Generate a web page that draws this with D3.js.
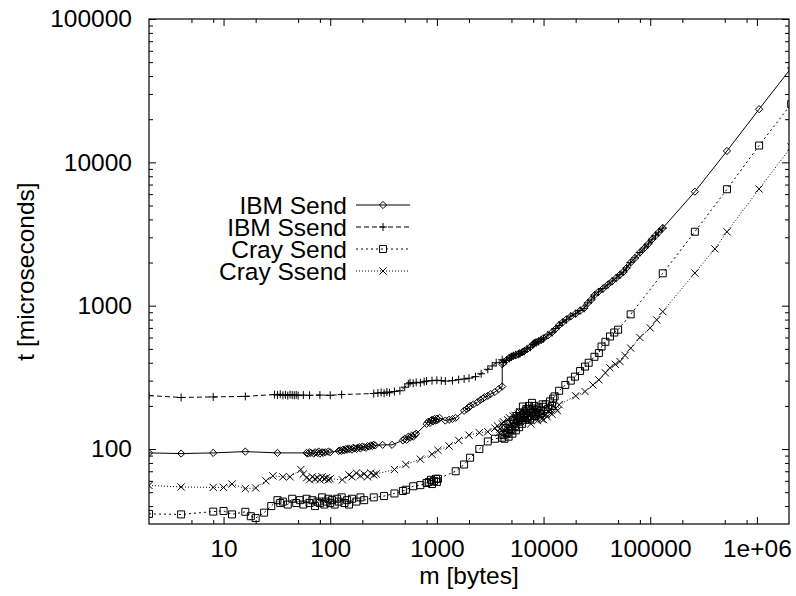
<!DOCTYPE html>
<html><head><meta charset="utf-8">
<script src="https://cdn.jsdelivr.net/npm/d3@7"></script>
<style>
body{margin:0;background:#fff}
text{font-family:"Liberation Sans",Arial,Helvetica,sans-serif;fill:#000}
</style>
</head><body><svg id="c" width="796" height="596"></svg>
<script>
// ---------------- data ----------------
const seriesNames = ["IBM Send","IBM Ssend","Cray Send","Cray Ssend"];
const xTickValues = [10,100,1000,10000,100000,1000000];
const xTickLabels = ["10","100","1000","10000","100000","1e+06"];
const yTickValues = [100,1000,10000,100000];
const yTickLabels = ["100","1000","10000","100000"];
const xMinorTicks = [5,8,20,50,80,200,500,800,2000,5000,8000,20000,50000,80000,200000,500000,800000];
const yMinorTicks = [40,50,60,70,80,90,200,300,400,500,600,700,800,900,2000,3000,4000,5000,6000,7000,8000,9000,20000,30000,40000,50000,60000,70000,80000,90000];

const ibmSend = [[2,94],[4,93],[8,94],[16,96],[32,94],
 [60,94],[62,93],[64,95],[66,94],[70,93],[72,95],[76,94],[78,96],[80,93],[84,95],[86,94],[90,95],[96,96],[100,95],
 [120,97],[124,98],[128,97],[132,99],[136,98],[140,100],[144,99],[148,101],[152,100],[160,99],[164,102],[168,101],[176,100],[180,102],[188,103],[192,101],[200,104],[208,103],[216,102],[224,105],[232,104],[240,106],[248,105],[256,107],[264,106],
 [310,107],[380,107],
 [480,115],[500,118],[520,116],[540,122],[560,120],[580,124],[600,122],[620,126],[640,128],
 [800,150],[830,155],[860,152],[880,158],[900,160],[920,156],[950,162],[980,158],[1000,163],[1024,160],[1060,165],
 [1200,158],[1300,160],[1400,162],[1500,165],
 [1800,185],[1900,190],[2000,195],[2048,200],[2200,205],[2400,212],[2560,220],[2700,225],[2800,230],[3000,235],[3200,242],[3500,250],[3800,262],[4096,273],
 [4100,390],[4200,398],[4500,418],[4800,435],[5000,442],[5200,446],[5500,452],[5800,460],[6000,466],[6300,472],[6600,482],[7000,497],[7500,514],[8000,540],[8192,546],[8500,552],[9000,566],[9500,577],[10000,592],[11000,622],[12000,652],[13000,690],[14000,732],[15000,762],[16384,802],[18000,842],[20000,882],[22000,922],[24000,962],[26000,1042],[28000,1102],[30000,1182],[32768,1252],[36000,1312],[40000,1402],[44000,1482],[48000,1562],[52000,1642],[56000,1722],[60000,1832],[65536,2002],[72000,2152],[80000,2352],[88000,2522],[96000,2702],[104000,2902],[112000,3082],[120000,3252],[131072,3480],
 [262144,6240],[524288,12000],[1048576,23500],[2097152,45500]];

const ibmSsend = [[2,236],[4,229],[8,231],[16,233],[30,240],[32,238],[34,241],[36,237],[38,239],[40,236],[42,240],[44,238],[46,237],[48,239],[50,236],[56,238],[64,237],[80,238],[100,237],[128,240],
 [256,244],[280,246],[300,248],[320,245],[340,250],[360,247],[400,252],[450,255],[500,270],[540,285],[560,290],[600,288],[640,292],[700,290],[760,295],[800,298],[900,300],[1000,302],[1100,300],[1200,298],[1400,300],[1600,305],[1800,308],[2000,312],[2300,320],[2600,335],[3000,360],[3300,380],[3600,400],[4096,420],
 [4200,402],[4500,415],[4800,430],[5000,438],[5200,448],[5500,455],[5800,458],[6000,462],[6300,475],[6600,480],[7000,500],[7500,512],[8000,536],[8192,548],[8500,556],[9000,562],[9500,580],[10000,588],[11000,626],[12000,648],[13000,694],[14000,728],[15000,766],[16384,798],[18000,846],[20000,878],[22000,926],[24000,958],[26000,1046],[28000,1098],[30000,1186],[32768,1248],[36000,1316],[40000,1398],[44000,1486],[48000,1558],[52000,1646],[56000,1718],[60000,1836],[65536,1998],[72000,2156],[80000,2348],[88000,2526],[96000,2698],[104000,2906],[112000,3078],[120000,3256],[131072,3476]];

const craySend = [[2,35.3],[4,35],[8,36.6],[10,37],[12,35],[16,36.5],[18,34],[20,33],[24,36],[28,40],[32,44],[34,42],[36,43],[40,41],[44,45],[48,42],[52,44],[56,41],[60,45],[64,42],[68,44],[72,40],[76,43],[80,42],[84,46],[88,41],[92,43],[96,45],[100,42],[104,44],[110,41],[116,45],[120,43],[128,46],[136,42],[144,44],[150,41],[160,45],[176,43],[192,46],[208,44],[256,46],[320,47],[400,49],[480,51],[512,52],[600,55],[700,56],[800,58],[840,59],[880,61],[900,57],[940,60],[980,62],[1000,59],[1024,62],
 [1500,70],[1800,78],[2048,87],[2500,100],[3000,113],[3500,118],[4096,120],
 [4200,125],[4300,118],[4400,140],[4500,128],[4600,130],[4700,122],[4800,150],[4900,138],[5000,135],[5100,128],[5200,160],[5300,150],[5400,145],[5500,135],[5600,170],[5700,158],[5800,155],[5900,142],[6000,180],[6100,165],[6200,165],[6300,150],[6400,198],[6500,172],[6600,175],[6700,160],[6800,185],[6900,190],[7000,170],[7100,165],[7200,190],[7300,200],[7500,160],[7600,178],[7800,210],[7900,192],[8000,180],[8192,200],[8300,170],[8500,175],[8700,188],[9000,195],[9200,178],[9500,185],[9800,205],[10000,197],[10500,205],[11000,190],[11500,215],[12000,200],[12300,225],
 [12700,233],[14000,255],[16000,280],[18000,300],[19700,320],[22000,350],[24500,376],[26500,400],[30000,440],[33000,467],[35000,519],[38000,560],[42000,610],[46000,650],[50000,680],[65536,870],[131072,1683],[262144,3280],[524288,6490],[1048576,13100],[2097152,25500]];

const craySsend = [[2,55.7],[4,54.4],[8,54],[10,54],[12,57],[16,53],[20,53.5],[25,60],[29,65],[36,64],[42,64],[53,72],[56,67],[60,63],[64,61],[68,64],[72,62],[76,63],[80,61],[84,64],[88,62],[92,63],[96,61],[100,62],[130,61],[150,66],[160,64],[176,68],[192,65],[208,67],[224,64],[240,68],[256,66],[270,67],
 [400,72],[512,78],[700,85],[900,92],[1024,98],[1300,105],[1600,115],[2000,125],[2500,130],[3000,132],
 [3500,140],[3700,145],[3800,130],[3900,138],[4096,150],[4200,155],[4300,135],[4400,142],[4600,160],[4800,165],[4900,145],[5000,150],[5200,170],[5400,172],[5500,150],[5700,158],[5800,175],[6000,182],[6100,155],[6300,160],[6500,180],[6700,178],[6800,160],[7000,165],[7200,172],[7400,185],[7600,150],[7800,168],[8000,165],[8200,180],[8400,175],[8600,165],[8800,158],[9000,185],[9200,170],[9400,170],[9600,162],[9800,178],[10000,160],[10500,175],[10800,168],[11200,182],[11500,190],[12000,175],[12500,198],[13000,192],[13500,185],
 [14000,204],[20000,235],[24500,252],[29000,280],[33000,304],[38000,340],[41900,369],[47000,390],[52000,408],[58000,450],[65536,506],[80000,600],[100000,700],[115000,796],[131072,910],[262144,1690],[404000,2490],[524288,3280],[1048576,6520],[2097152,12800]];

// ---------------- drawing ----------------
const svg = d3.select("#c");
const W = 796, H = 596;
const L = 149, R = 789, T = 19, B = 524;
const x = d3.scaleLog().domain([2, 2e6]).range([L, R]);
const y = d3.scaleLog().domain([30, 1e5]).range([B, T]);
const FS = "24.5px";

svg.append("rect").attr("width", W).attr("height", H).attr("fill", "#fff");

svg.append("defs").append("clipPath").attr("id", "clip")
  .append("rect").attr("x", L).attr("y", T).attr("width", R - L).attr("height", B - T);

function styleAxis(g){
  g.select(".domain").remove();
  g.selectAll(".tick line").attr("stroke", "#000").attr("stroke-width", 1);
  g.selectAll("text").attr("font-size", FS).attr("font-family", null);
}
const majorLen = 7, minorLen = 4;
svg.append("g").attr("transform", `translate(0,${B})`)
  .call(d3.axisBottom(x).tickValues(xTickValues).tickFormat((d,i)=>xTickLabels[i]).tickSize(-majorLen).tickPadding(16))
  .call(styleAxis);
svg.append("g").attr("transform", `translate(0,${B})`)
  .call(d3.axisBottom(x).tickValues(xMinorTicks).tickFormat("").tickSize(-minorLen)).call(styleAxis);
svg.append("g").attr("transform", `translate(0,${T})`)
  .call(d3.axisTop(x).tickValues(xTickValues).tickFormat("").tickSize(-majorLen)).call(styleAxis);
svg.append("g").attr("transform", `translate(0,${T})`)
  .call(d3.axisTop(x).tickValues(xMinorTicks).tickFormat("").tickSize(-minorLen)).call(styleAxis);
svg.append("g").attr("transform", `translate(${L},0)`)
  .call(d3.axisLeft(y).tickValues(yTickValues).tickFormat((d,i)=>yTickLabels[i]).tickSize(-majorLen).tickPadding(17))
  .call(styleAxis);
svg.append("g").attr("transform", `translate(${L},0)`)
  .call(d3.axisLeft(y).tickValues(yMinorTicks).tickFormat("").tickSize(-minorLen)).call(styleAxis);
svg.append("g").attr("transform", `translate(${R},0)`)
  .call(d3.axisRight(y).tickValues(yTickValues).tickFormat("").tickSize(-majorLen)).call(styleAxis);
svg.append("g").attr("transform", `translate(${R},0)`)
  .call(d3.axisRight(y).tickValues(yMinorTicks).tickFormat("").tickSize(-minorLen)).call(styleAxis);

svg.append("rect").attr("x", L).attr("y", T).attr("width", R - L).attr("height", B - T)
  .attr("fill", "none").attr("stroke", "#000").attr("stroke-width", 1.2);

svg.append("text").attr("x", (L + R) / 2).attr("y", 584).attr("text-anchor", "middle")
  .attr("font-size", FS).text("m [bytes]");
svg.append("text").attr("transform", `translate(34,${(T + B) / 2}) rotate(-90)`).attr("text-anchor", "middle")
  .attr("font-size", FS).text("t [microseconds]");

const markers = {
  diamond: "M0,-3.6L3.6,0L0,3.6L-3.6,0Z",
  plus: "M-4,0H4M0,-4V4",
  square: "M-3.5,-3.5H3.5V3.5H-3.5Z",
  cross: "M-3.6,-3.6L3.6,3.6M-3.6,3.6L3.6,-3.6"
};
const styles = [
  {data: ibmSend, dash: null, marker: "diamond"},
  {data: ibmSsend, dash: "5,3", marker: "plus"},
  {data: craySend, dash: "2,3", marker: "square"},
  {data: craySsend, dash: "1,2", marker: "cross"}
];

const plot = svg.append("g").attr("clip-path", "url(#clip)");
const line = d3.line().x(d => x(d[0])).y(d => y(d[1]));
styles.forEach(s => {
  const g = plot.append("g");
  g.append("path").datum(s.data).attr("d", line).attr("fill", "none").attr("stroke", "#000")
    .attr("stroke-width", 1).attr("stroke-dasharray", s.dash);
  g.selectAll("path.m").data(s.data).join("path").attr("class", "m")
    .attr("transform", d => `translate(${x(d[0])},${y(d[1])})`)
    .attr("d", markers[s.marker]).attr("fill", "none").attr("stroke", "#000").attr("stroke-width", 1);
});

// legend
const legCenter = [205, 227, 249, 271];
styles.forEach((s, i) => {
  const yy = legCenter[i];
  svg.append("text").attr("x", 347).attr("y", yy + 8.5).attr("text-anchor", "end")
    .attr("font-size", FS).text(seriesNames[i]);
  svg.append("line").attr("x1", 356).attr("x2", 410).attr("y1", yy).attr("y2", yy)
    .attr("stroke", "#000").attr("stroke-width", 1).attr("stroke-dasharray", s.dash);
  svg.append("path").attr("transform", `translate(383,${yy})`).attr("d", markers[s.marker])
    .attr("fill", "none").attr("stroke", "#000").attr("stroke-width", 1);
});
</script>
</body></html>
